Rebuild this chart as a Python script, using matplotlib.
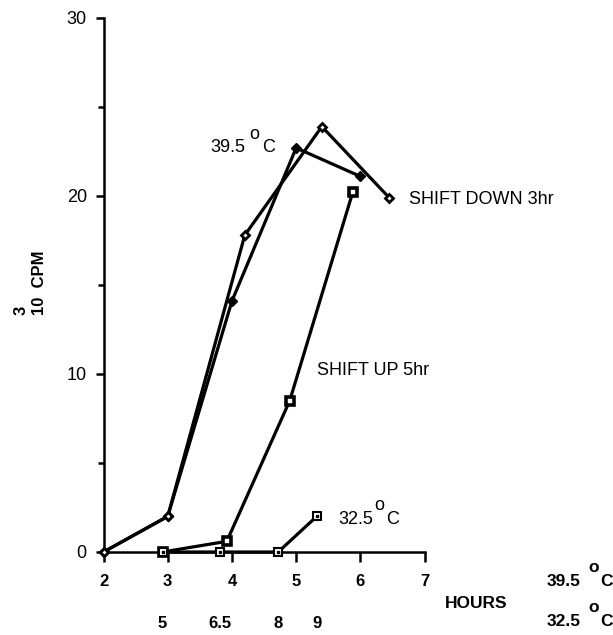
import matplotlib
matplotlib.use("Agg")
import matplotlib.pyplot as plt

plt.rcParams['font.family'] = ['Liberation Sans', 'DejaVu Sans']

# hours at 39.5 C (primary axis)
x_395 = [2, 3, 4, 5, 6]
y_395 = [0, 2, 14.1, 22.7, 21.1]

x_down = [2, 3, 4.2, 5.4, 6.45]
y_down = [0, 2, 17.8, 23.9, 19.9]

x_up = [2.92, 3.92, 4.9, 5.88]
y_up = [0, 0.6, 8.5, 20.2]

# hours at 32.5 C (secondary axis)
h_325 = [5, 6.5, 8, 9]
y_325 = [0, 0, 0, 2]

x_ticks = [2, 3, 4, 5, 6, 7]
h_ticks = [5, 6.5, 8, 9]
h_tick_labels = ['5', '6.5', '8', '9']
y_major = [0, 10, 20, 30]
y_minor = [5, 15, 25]


def h_to_x(h):
    return 2.92 + 0.6 * (h - 5)


def x_to_h(x):
    return 5 + (x - 2.92) / 0.6


W, H = 613, 635
fig = plt.figure(figsize=(W / 100, H / 100), dpi=100)
ax = fig.add_axes([103.5 / W, 1 - 552 / H, (424.6 - 103.5) / W, (552 - 18) / H])

lw = 2.3
ax.plot(x_395, y_395, color='black', lw=lw, marker='D', ms=5.5,
        mfc='black', mec='black', clip_on=False, zorder=3)
ax.plot(x_down, y_down, color='black', lw=lw, marker='D', ms=4.5,
        mfc='white', mec='black', mew=2, clip_on=False, zorder=3)
ax.plot(x_up, y_up, color='black', lw=lw, marker='s', ms=5.5,
        mfc='white', mec='black', mew=2.6, clip_on=False, zorder=4)
x_325 = [h_to_x(h) for h in h_325]
ax.plot(x_325, y_325, color='black', lw=lw, marker='s', ms=6,
        mfc='white', mec='black', mew=1.5, clip_on=False, zorder=4)
ax.plot(x_325, y_325, ls='none', marker='s', ms=1.8, color='black',
        clip_on=False, zorder=5)

ax.set_xlim(2, 7)
ax.set_ylim(0, 30)
for s in ['top', 'right']:
    ax.spines[s].set_visible(False)
for s in ['left', 'bottom']:
    ax.spines[s].set_linewidth(1.8)

ax.set_xticks(x_ticks)
ax.set_xticklabels([str(v) for v in x_ticks], fontsize=12, fontweight='bold')
ax.set_yticks(y_major)
ax.set_yticklabels([str(v) for v in y_major], fontsize=13)
ax.set_yticks(y_minor, minor=True)
ax.tick_params(axis='x', direction='out', length=7, width=1.8, pad=9)
ax.tick_params(axis='y', which='major', direction='out', length=6, width=1.8, pad=6)
ax.tick_params(axis='y', which='minor', direction='out', length=4, width=1.8)

sec = ax.secondary_xaxis(-0.11, functions=(x_to_h, h_to_x))
sec.set_xticks(h_ticks)
sec.set_xticklabels(h_tick_labels, fontsize=12, fontweight='bold')
sec.tick_params(length=0, pad=4)
sec.spines['bottom'].set_visible(False)


def deg_label(num, x, y, size, weight, dx_o, dx_c, dy_o, coords):
    ax.annotate(num, xy=(x, y), xycoords=coords, ha='left', va='center',
                fontsize=size, fontweight=weight, annotation_clip=False)
    ax.annotate('o', xy=(x, y), xycoords=coords, xytext=(dx_o, dy_o),
                textcoords='offset pixels', ha='left', va='center',
                fontsize=size, fontweight=weight, annotation_clip=False)
    ax.annotate('C', xy=(x, y), xycoords=coords, xytext=(dx_c, 0),
                textcoords='offset pixels', ha='left', va='center',
                fontsize=size, fontweight=weight, annotation_clip=False)


# labels inside the plot
deg_label('39.5', 3.67, 22.75, 13, 'normal', 39, 51, 13, 'data')
deg_label('32.5', 5.65, 1.8, 13, 'normal', 36, 48, 14, 'data')
ax.text(6.76, 19.8, 'SHIFT DOWN 3hr', fontsize=13, ha='left', va='center')
ax.text(5.33, 10.2, 'SHIFT UP 5hr', fontsize=13, ha='left', va='center')

# labels below, at the right
deg_label('39.5', 547 / W, 1 - 582 / H, 12.5, 'bold', 41, 53, 15, 'figure fraction')
deg_label('32.5', 547 / W, 1 - 622 / H, 12.5, 'bold', 41, 53, 15, 'figure fraction')
fig.text(445 / W, 1 - 604 / H, 'HOURS', fontsize=12.5, fontweight='bold',
         ha='left', va='center')

# y label: 10^3 CPM
fig.text(39 / W, 1 - 283 / H, '10  CPM', fontsize=12, fontweight='bold',
         rotation=90, ha='center', va='center')
fig.text(21 / W, 1 - 310 / H, '3', fontsize=12, fontweight='bold',
         rotation=90, ha='center', va='center')

fig.savefig('out.png', dpi=100)
